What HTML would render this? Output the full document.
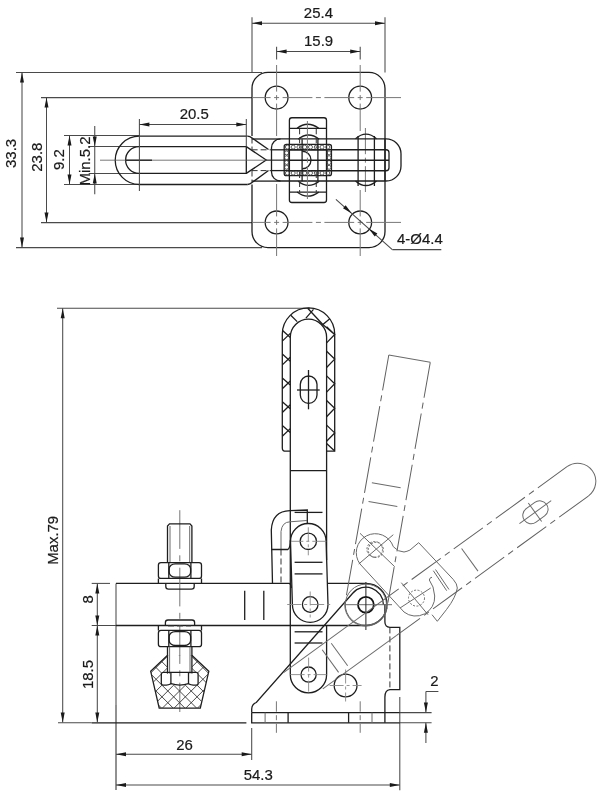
<!DOCTYPE html><html><head><meta charset="utf-8"><style>
html,body{margin:0;padding:0;background:#fff;}
svg{display:block;filter:grayscale(1);}
.k{fill:none;stroke:#1e1e1e;stroke-width:1.3;}
.kb{fill:none;stroke:#111;stroke-width:1.8;}
.g{fill:none;stroke:#6a6a6a;stroke-width:1;}
.gd{fill:none;stroke:#707070;stroke-width:1;stroke-dasharray:2 1.5;}
.c{fill:none;stroke:#777;stroke-width:1;}
.c2{fill:none;stroke:#888;stroke-width:0.9;stroke-dasharray:14 3 3 3;}
.d{fill:none;stroke:#333;stroke-width:1;stroke-dasharray:6 3;}
.p{fill:none;stroke:#606060;stroke-width:1;stroke-dasharray:36 5 6 5;}
.kn{fill:none;stroke:#444;stroke-width:0.9;}
.t{fill:none;stroke:#555;stroke-width:0.8;}
.cs{fill:none;stroke:#777;stroke-width:1;stroke-dasharray:38.7 6.4 6 6.4;}
.e{fill:none;stroke:#4a4a4a;stroke-width:1.05;}
.k1{fill:none;stroke:#222;stroke-width:1;}
.h{fill:none;stroke:#333;stroke-width:0.9;}
.ar{fill:#1a1a1a;stroke:none;}
text{font-family:"Liberation Sans",sans-serif;fill:#1a1a1a;stroke:#1a1a1a;stroke-width:0.2px;}
</style></head><body>
<svg width="600" height="799" viewBox="0 0 600 799">
<line x1="16.00" y1="72.40" x2="262.00" y2="72.40" class="e"/>
<line x1="16.00" y1="247.60" x2="262.00" y2="247.60" class="e"/>
<line x1="22.00" y1="72.40" x2="22.00" y2="247.60" class="e"/>
<path d="M22.00,72.40 L24.00,82.40 L20.00,82.40 Z" class="ar"/>
<path d="M22.00,247.60 L20.00,237.60 L24.00,237.60 Z" class="ar"/>
<text transform="translate(10.6 153.4) rotate(-90) scale(0.965 1)" x="0" y="0" font-size="15.5" text-anchor="middle" dominant-baseline="central">33.3</text>
<line x1="41.00" y1="97.60" x2="252.00" y2="97.60" class="e"/>
<line x1="41.00" y1="222.60" x2="252.00" y2="222.60" class="e"/>
<line x1="46.50" y1="97.60" x2="46.50" y2="222.60" class="e"/>
<path d="M46.50,97.60 L48.50,107.60 L44.50,107.60 Z" class="ar"/>
<path d="M46.50,222.60 L44.50,212.60 L48.50,212.60 Z" class="ar"/>
<text transform="translate(36.25 157.2) rotate(-90) scale(0.965 1)" x="0" y="0" font-size="15.5" text-anchor="middle" dominant-baseline="central">23.8</text>
<line x1="64.00" y1="135.50" x2="140.00" y2="135.50" class="e"/>
<line x1="64.00" y1="184.40" x2="140.00" y2="184.40" class="e"/>
<line x1="69.50" y1="135.50" x2="69.50" y2="184.40" class="e"/>
<path d="M69.50,135.50 L71.50,145.50 L67.50,145.50 Z" class="ar"/>
<path d="M69.50,184.40 L67.50,174.40 L71.50,174.40 Z" class="ar"/>
<text transform="translate(58.75 159.6) rotate(-90) scale(0.965 1)" x="0" y="0" font-size="15.5" text-anchor="middle" dominant-baseline="central">9.2</text>
<line x1="88.70" y1="146.40" x2="140.00" y2="146.40" class="e"/>
<line x1="88.70" y1="173.40" x2="140.00" y2="173.40" class="e"/>
<line x1="94.75" y1="126.00" x2="94.75" y2="194.20" class="e"/>
<path d="M94.75,146.40 L92.75,136.40 L96.75,136.40 Z" class="ar"/>
<path d="M94.75,173.40 L96.75,183.40 L92.75,183.40 Z" class="ar"/>
<text transform="translate(84.4 161) rotate(-90) scale(0.965 1)" x="0" y="0" font-size="15.5" text-anchor="middle" dominant-baseline="central">Min.5.2</text>
<path d="M247.5,136.1 L139.4,136.1 A24.2,24.2 0 0 0 139.4,184.5 L247.5,184.5" class="k"/>
<path d="M246.3,146.6 L139,146.6 A13.4,13.4 0 0 0 139,173.4 L246.3,173.4 Z" class="k"/>
<path d="M246.3,146.6 L266.2,160 L246.3,173.4" class="k"/>
<path d="M247.5,136.1 Q250,136.3 252,138 L268.5,149.5" class="k"/>
<path d="M247.5,184.5 Q250,184.3 252,182.6 L268.5,170.5" class="k"/>
<line x1="251.60" y1="149.80" x2="271.50" y2="149.80" class="d"/>
<line x1="251.60" y1="170.60" x2="271.50" y2="170.60" class="d"/>
<line x1="271.50" y1="149.80" x2="289.00" y2="149.80" class="k"/>
<line x1="271.50" y1="170.60" x2="289.00" y2="170.60" class="k"/>
<line x1="251.90" y1="139.00" x2="280.50" y2="139.00" class="k"/>
<line x1="251.90" y1="181.10" x2="280.50" y2="181.10" class="k"/>
<line x1="266.00" y1="160.20" x2="289.00" y2="160.20" class="k1"/>
<line x1="100.00" y1="160.20" x2="289.00" y2="160.20" class="t"/>
<line x1="126.00" y1="160.20" x2="152.00" y2="160.20" class="k"/>
<line x1="139.40" y1="119.00" x2="139.40" y2="191.00" class="e"/>
<line x1="246.30" y1="119.00" x2="246.30" y2="146.60" class="e"/>
<line x1="139.40" y1="124.50" x2="246.30" y2="124.50" class="e"/>
<path d="M139.40,124.50 L149.40,122.50 L149.40,126.50 Z" class="ar"/>
<path d="M246.30,124.50 L236.30,126.50 L236.30,122.50 Z" class="ar"/>
<text transform="translate(194.25 113.6) rotate(0) scale(0.965 1)" x="0" y="0" font-size="15.5" text-anchor="middle" dominant-baseline="central">20.5</text>
<path d="M252,136.1 L252,88.4 A16,16 0 0 1 268,72.4 L369,72.4 A16,16 0 0 1 385,88.4 L385,231.6 A16,16 0 0 1 369,247.6 L268,247.6 A16,16 0 0 1 252,231.6 L252,184.5" class="k"/>
<line x1="252.00" y1="137.50" x2="252.00" y2="149.50" class="d"/>
<line x1="252.00" y1="170.50" x2="252.00" y2="182.50" class="d"/>
<circle cx="276.6" cy="97.6" r="11.4" class="k"/>
<circle cx="276.6" cy="222.4" r="11.4" class="k"/>
<circle cx="360.2" cy="97.6" r="11.4" class="k"/>
<circle cx="360.2" cy="222.4" r="11.4" class="k"/>
<line x1="252.00" y1="97.60" x2="270.60" y2="97.60" class="c"/>
<line x1="274.10" y1="97.60" x2="279.10" y2="97.60" class="c"/>
<line x1="282.60" y1="97.60" x2="312.40" y2="97.60" class="c"/>
<line x1="315.90" y1="97.60" x2="320.90" y2="97.60" class="c"/>
<line x1="324.40" y1="97.60" x2="354.20" y2="97.60" class="c"/>
<line x1="357.70" y1="97.60" x2="362.70" y2="97.60" class="c"/>
<line x1="366.20" y1="97.60" x2="401.00" y2="97.60" class="c"/>
<line x1="252.00" y1="222.40" x2="270.60" y2="222.40" class="c"/>
<line x1="274.10" y1="222.40" x2="279.10" y2="222.40" class="c"/>
<line x1="282.60" y1="222.40" x2="312.40" y2="222.40" class="c"/>
<line x1="315.90" y1="222.40" x2="320.90" y2="222.40" class="c"/>
<line x1="324.40" y1="222.40" x2="354.20" y2="222.40" class="c"/>
<line x1="357.70" y1="222.40" x2="362.70" y2="222.40" class="c"/>
<line x1="366.20" y1="222.40" x2="401.00" y2="222.40" class="c"/>
<line x1="276.60" y1="46.70" x2="276.60" y2="59.40" class="e"/>
<line x1="360.20" y1="46.70" x2="360.20" y2="59.40" class="e"/>
<line x1="276.60" y1="65.00" x2="276.60" y2="91.60" class="c"/>
<line x1="276.60" y1="95.10" x2="276.60" y2="100.10" class="c"/>
<line x1="276.60" y1="103.60" x2="276.60" y2="136.00" class="c"/>
<line x1="276.60" y1="184.00" x2="276.60" y2="216.40" class="c"/>
<line x1="276.60" y1="219.90" x2="276.60" y2="224.90" class="c"/>
<line x1="276.60" y1="228.40" x2="276.60" y2="256.00" class="c"/>
<line x1="360.20" y1="65.00" x2="360.20" y2="91.60" class="c"/>
<line x1="360.20" y1="95.10" x2="360.20" y2="100.10" class="c"/>
<line x1="360.20" y1="103.60" x2="360.20" y2="131.00" class="c"/>
<line x1="360.20" y1="190.00" x2="360.20" y2="216.40" class="c"/>
<line x1="360.20" y1="219.90" x2="360.20" y2="224.90" class="c"/>
<line x1="360.20" y1="228.40" x2="360.20" y2="256.00" class="c"/>
<line x1="365.40" y1="128.00" x2="365.40" y2="154.20" class="c"/>
<line x1="365.40" y1="157.70" x2="365.40" y2="162.70" class="c"/>
<line x1="365.40" y1="166.20" x2="365.40" y2="192.00" class="c"/>
<line x1="252.00" y1="17.30" x2="252.00" y2="72.40" class="e"/>
<line x1="385.00" y1="17.30" x2="385.00" y2="72.40" class="e"/>
<line x1="252.00" y1="23.20" x2="385.00" y2="23.20" class="e"/>
<path d="M252.00,23.20 L262.00,21.20 L262.00,25.20 Z" class="ar"/>
<path d="M385.00,23.20 L375.00,25.20 L375.00,21.20 Z" class="ar"/>
<text transform="translate(318.4 12.65) rotate(0) scale(0.965 1)" x="0" y="0" font-size="15.5" text-anchor="middle" dominant-baseline="central">25.4</text>
<line x1="276.60" y1="51.50" x2="360.20" y2="51.50" class="e"/>
<path d="M276.60,51.50 L286.60,49.50 L286.60,53.50 Z" class="ar"/>
<path d="M360.20,51.50 L350.20,53.50 L350.20,49.50 Z" class="ar"/>
<text transform="translate(318.55 40.8) rotate(0) scale(0.965 1)" x="0" y="0" font-size="15.5" text-anchor="middle" dominant-baseline="central">15.9</text>
<line x1="335.90" y1="199.30" x2="392.30" y2="249.60" class="e"/>
<line x1="392.30" y1="249.60" x2="441.30" y2="249.60" class="e"/>
<path d="M351.80,213.50 L343.00,208.35 L345.66,205.36 Z" class="ar"/>
<path d="M368.60,228.40 L377.40,233.55 L374.74,236.54 Z" class="ar"/>
<text transform="translate(419.9 238.8) rotate(0) scale(0.965 1)" x="0" y="0" font-size="15.5" text-anchor="middle" dominant-baseline="central">4-Ø4.4</text>
<path d="M280.5,138.8 L386,138.8 A15,15 0 0 1 401,153.8 L401,166 A15,15 0 0 1 386,181 L280.5,181 A9,9 0 0 1 271.5,172 L271.5,147.8 A9,9 0 0 1 280.5,138.8 Z" class="k"/>
<path d="M288.5,149.75 L386,149.75 A3,3 0 0 1 389,152.75 L389,167.75 A3,3 0 0 1 386,170.75 L288.5,170.75" class="k"/>
<line x1="288.50" y1="160.25" x2="389.00" y2="160.25" class="k"/>
<path d="M291.9,117.75 L324,117.75 A2.5,2.5 0 0 1 326.5,120.25 L326.5,200 A2.5,2.5 0 0 1 324,202.5 L291.9,202.5 A2.5,2.5 0 0 1 289.4,200 L289.4,120.25 A2.5,2.5 0 0 1 291.9,117.75 Z" class="k"/>
<line x1="289.40" y1="128.30" x2="326.50" y2="128.30" class="k"/>
<line x1="289.40" y1="192.10" x2="326.50" y2="192.10" class="k"/>
<path d="M297.1,128.3 Q307.5,120.2 318.75,128.3" class="k"/>
<path d="M297.1,192.1 Q307.5,200.2 318.75,192.1" class="k"/>
<path d="M286.4,144.4 L329.25,144.4 A2.2,2.2 0 0 1 331.45,146.6 L331.45,173.4 A2.2,2.2 0 0 1 329.25,175.6 L286.4,175.6 A2.2,2.2 0 0 1 284.2,173.4 L284.2,146.6 A2.2,2.2 0 0 1 286.4,144.4 Z" class="k"/>
<path d="M289,149.8 L327,149.8 L327,170.6 L289,170.6 Z" class="k"/>
<circle cx="287.4" cy="147.1" r="2.0" class="kn"/>
<circle cx="287.4" cy="173.1" r="2.0" class="kn"/>
<circle cx="293.16999999999996" cy="147.1" r="2.0" class="kn"/>
<circle cx="293.16999999999996" cy="173.1" r="2.0" class="kn"/>
<circle cx="298.94" cy="147.1" r="2.0" class="kn"/>
<circle cx="298.94" cy="173.1" r="2.0" class="kn"/>
<circle cx="304.71" cy="147.1" r="2.0" class="kn"/>
<circle cx="304.71" cy="173.1" r="2.0" class="kn"/>
<circle cx="310.47999999999996" cy="147.1" r="2.0" class="kn"/>
<circle cx="310.47999999999996" cy="173.1" r="2.0" class="kn"/>
<circle cx="316.25" cy="147.1" r="2.0" class="kn"/>
<circle cx="316.25" cy="173.1" r="2.0" class="kn"/>
<circle cx="322.02" cy="147.1" r="2.0" class="kn"/>
<circle cx="322.02" cy="173.1" r="2.0" class="kn"/>
<circle cx="327.78999999999996" cy="147.1" r="2.0" class="kn"/>
<circle cx="327.78999999999996" cy="173.1" r="2.0" class="kn"/>
<circle cx="286.6" cy="152.9" r="2.0" class="kn"/>
<circle cx="329.1" cy="152.9" r="2.0" class="kn"/>
<circle cx="286.6" cy="157.70000000000002" r="2.0" class="kn"/>
<circle cx="329.1" cy="157.70000000000002" r="2.0" class="kn"/>
<circle cx="286.6" cy="162.5" r="2.0" class="kn"/>
<circle cx="329.1" cy="162.5" r="2.0" class="kn"/>
<circle cx="286.6" cy="167.3" r="2.0" class="kn"/>
<circle cx="329.1" cy="167.3" r="2.0" class="kn"/>
<path d="M298.3,139.2 Q308.3,130.8 319.2,139.2" class="k"/>
<path d="M298.3,181.2 Q308.3,189.6 319.2,181.2" class="k"/>
<line x1="302.10" y1="139.20" x2="302.10" y2="181.20" class="k"/>
<line x1="317.90" y1="139.20" x2="317.90" y2="181.20" class="k"/>
<line x1="299.60" y1="128.30" x2="299.60" y2="148.00" class="d"/>
<line x1="316.25" y1="128.30" x2="316.25" y2="148.00" class="d"/>
<line x1="299.60" y1="172.00" x2="299.60" y2="192.10" class="d"/>
<line x1="316.25" y1="172.00" x2="316.25" y2="192.10" class="d"/>
<path d="M302.25,151.25 A8.75,8.75 0 0 1 302.25,168.75" class="k"/>
<line x1="307.40" y1="121.00" x2="307.40" y2="154.20" class="c"/>
<line x1="307.40" y1="157.70" x2="307.40" y2="162.70" class="c"/>
<line x1="307.40" y1="166.20" x2="307.40" y2="199.00" class="c"/>
<path d="M355.5,138.8 Q366,129.5 376.5,138.8" class="k"/>
<path d="M355.5,180.9 Q366,190.2 376.5,180.9" class="k"/>
<line x1="358.10" y1="136.00" x2="358.10" y2="186.00" class="k"/>
<line x1="374.40" y1="136.00" x2="374.40" y2="186.00" class="k"/>
<line x1="385.00" y1="138.80" x2="385.00" y2="181.00" class="k"/>
<line x1="57.00" y1="308.20" x2="310.00" y2="308.20" class="e"/>
<line x1="62.70" y1="308.20" x2="62.70" y2="722.60" class="e"/>
<path d="M62.70,308.20 L64.70,318.20 L60.70,318.20 Z" class="ar"/>
<path d="M62.70,722.60 L60.70,712.60 L64.70,712.60 Z" class="ar"/>
<text transform="translate(52.3 540.35) rotate(-90) scale(0.965 1)" x="0" y="0" font-size="15.5" text-anchor="middle" dominant-baseline="central">Max.79</text>
<line x1="58.00" y1="722.80" x2="91.70" y2="722.80" class="e"/>
<line x1="91.70" y1="722.80" x2="246.40" y2="722.80" class="k"/>
<line x1="91.70" y1="583.40" x2="110.00" y2="583.40" class="e"/>
<line x1="91.70" y1="625.50" x2="116.00" y2="625.50" class="e"/>
<line x1="97.30" y1="583.40" x2="97.30" y2="722.60" class="e"/>
<path d="M97.30,583.40 L99.30,593.40 L95.30,593.40 Z" class="ar"/>
<path d="M97.30,625.50 L95.30,615.50 L99.30,615.50 Z" class="ar"/>
<path d="M97.30,625.50 L99.30,635.50 L95.30,635.50 Z" class="ar"/>
<path d="M97.30,722.60 L95.30,712.60 L99.30,712.60 Z" class="ar"/>
<text transform="translate(87.25 599.3) rotate(-90) scale(0.965 1)" x="0" y="0" font-size="15.5" text-anchor="middle" dominant-baseline="central">8</text>
<text transform="translate(87.4 674.5) rotate(-90) scale(0.965 1)" x="0" y="0" font-size="15.5" text-anchor="middle" dominant-baseline="central">18.5</text>
<line x1="116.00" y1="583.40" x2="116.00" y2="705.00" class="e"/>
<line x1="116.00" y1="705.00" x2="116.00" y2="790.00" class="k1"/>
<line x1="251.70" y1="728.00" x2="251.70" y2="760.00" class="e"/>
<line x1="116.00" y1="754.20" x2="251.70" y2="754.20" class="e"/>
<path d="M116.00,754.20 L126.00,752.20 L126.00,756.20 Z" class="ar"/>
<path d="M251.70,754.20 L241.70,756.20 L241.70,752.20 Z" class="ar"/>
<text transform="translate(184.45 744.3) rotate(0) scale(0.965 1)" x="0" y="0" font-size="15.5" text-anchor="middle" dominant-baseline="central">26</text>
<line x1="116.00" y1="784.90" x2="399.80" y2="784.90" class="e"/>
<path d="M116.00,784.90 L126.00,782.90 L126.00,786.90 Z" class="ar"/>
<path d="M399.80,784.90 L389.80,786.90 L389.80,782.90 Z" class="ar"/>
<text transform="translate(258.2 774.65) rotate(0) scale(0.965 1)" x="0" y="0" font-size="15.5" text-anchor="middle" dominant-baseline="central">54.3</text>
<line x1="399.80" y1="697.00" x2="399.80" y2="790.30" class="e"/>
<path d="M116,583.4 L289.2,583.4 Q291.2,584 291.3,588" class="k"/>
<path d="M327,583.4 L366,583.4 A21.05,21.05 0 0 1 366,625.5 L116,625.5" class="k"/>
<line x1="244.70" y1="590.80" x2="244.70" y2="620.00" class="k"/>
<line x1="263.80" y1="590.80" x2="263.80" y2="620.00" class="k"/>
<line x1="179.80" y1="510.20" x2="179.80" y2="712.00" class="cs"/>
<path d="M167.5,562.6 L167.5,526 L169.5,523.9 L190,523.9 L191.9,526 L191.9,562.6" class="k"/>
<line x1="170.00" y1="526.00" x2="170.00" y2="562.60" class="g"/>
<line x1="189.70" y1="526.00" x2="189.70" y2="562.60" class="g"/>
<path d="M161,562.6 L199,562.6 Q201.5,562.6 201.5,565.1 L201.5,575.9 Q201.5,578.4 199,578.4 L161,578.4 Q158.4,578.4 158.4,575.9 L158.4,565.1 Q158.4,562.6 161,562.6 Z" class="k"/>
<rect x="169.2" y="563.8000000000001" width="21.4" height="13.399999999999954" rx="6" ry="5" class="k"/>
<line x1="168.80" y1="562.60" x2="168.80" y2="578.40" class="k"/>
<line x1="190.90" y1="562.60" x2="190.90" y2="578.40" class="k"/>
<path d="M158.4,578.4 L158.4,583.4 M201.5,578.4 L201.5,583.4" class="k"/>
<path d="M165.8,583.6 L165.8,586.6 Q165.8,589.2 168.5,589.2 L191.5,589.2 Q194.2,589.2 194.2,586.6 L194.2,583.6" class="k"/>
<path d="M165.4,625.5 L165.4,622.6 Q165.4,620 168,620 L192,620 Q194.6,620 194.6,622.6 L194.6,625.5" class="k"/>
<line x1="168.00" y1="625.90" x2="191.00" y2="625.90" class="d"/>
<path d="M158.4,625.5 L158.4,630.4 M201.5,625.5 L201.5,630.4" class="k"/>
<path d="M161,630.4 L199,630.4 Q201.5,630.4 201.5,632.9 L201.5,644.2 Q201.5,646.7 199,646.7 L161,646.7 Q158.4,646.7 158.4,644.2 L158.4,632.9 Q158.4,630.4 161,630.4 Z" class="k"/>
<rect x="169.2" y="631.6" width="21.4" height="13.900000000000068" rx="6" ry="5" class="k"/>
<line x1="168.80" y1="630.40" x2="168.80" y2="646.70" class="k"/>
<line x1="190.90" y1="630.40" x2="190.90" y2="646.70" class="k"/>
<line x1="167.50" y1="646.70" x2="167.50" y2="673.60" class="k"/>
<line x1="191.90" y1="646.70" x2="191.90" y2="673.60" class="k"/>
<line x1="169.60" y1="646.70" x2="169.60" y2="673.60" class="g"/>
<line x1="190.00" y1="646.70" x2="190.00" y2="673.60" class="g"/>
<path d="M167.6,655.3 L150.7,671.3 L159.2,708.1 L200.3,708.1 L208.8,671.3 L191.8,655.3" class="k"/>
<path d="M163.5,672.4 L196,672.4 Q198.1,672.4 198.1,674.5 L198.1,683.5 Q198.1,685.2 196,685.2 Q190,685.2 188.5,683.6 Q180,686.5 171,683.6 Q169.5,685.2 163.5,685.2 Q161.3,685.2 161.3,683.2 L161.3,674.5 Q161.3,672.4 163.5,672.4 Z" class="k"/>
<line x1="170.90" y1="672.40" x2="170.90" y2="684.00" class="k"/>
<line x1="188.50" y1="672.40" x2="188.50" y2="684.00" class="k"/>
<clipPath id="rt"><path clip-rule="evenodd" d="M167.6,655.3 L150.7,671.3 L159.2,708.1 L200.3,708.1 L208.8,671.3 L191.8,655.3 Z M167.5,655 L191.9,655 L191.9,672.4 L167.5,672.4 Z M161.3,672.4 L198.1,672.4 L198.1,685.2 L161.3,685.2 Z"/></clipPath>
<path d="M44.90,650 L106.90,712 M126.90,650 L64.90,712 M56.60,650 L118.60,712 M138.60,650 L76.60,712 M68.30,650 L130.30,712 M150.30,650 L88.30,712 M80.00,650 L142.00,712 M162.00,650 L100.00,712 M91.70,650 L153.70,712 M173.70,650 L111.70,712 M103.40,650 L165.40,712 M185.40,650 L123.40,712 M115.10,650 L177.10,712 M197.10,650 L135.10,712 M126.80,650 L188.80,712 M208.80,650 L146.80,712 M138.50,650 L200.50,712 M220.50,650 L158.50,712 M150.20,650 L212.20,712 M232.20,650 L170.20,712 M161.90,650 L223.90,712 M243.90,650 L181.90,712 M173.60,650 L235.60,712 M255.60,650 L193.60,712 M185.30,650 L247.30,712 M267.30,650 L205.30,712 M197.00,650 L259.00,712 M279.00,650 L217.00,712 M208.70,650 L270.70,712 M290.70,650 L228.70,712 M220.40,650 L282.40,712 M302.40,650 L240.40,712 M232.10,650 L294.10,712 M314.10,650 L252.10,712" class="h" clip-path="url(#rt)"/>
<path d="M290.3,674.7 L290.3,337.3 A18.15,18.15 0 0 1 326.6,337.3 L326.6,560" class="k"/>
<path d="M326.6,626 L326.6,674.7 A18.15,18.15 0 0 1 290.3,674.7" class="k"/>
<path d="M282.3,447.9 L282.3,334.15 A26.2,26.2 0 0 1 334.7,334.15 L334.7,451.2 L326.6,451.2" class="k"/>
<path d="M290.3,451.2 L285.8,451.2 Q282.3,451.2 282.3,447.9" class="k"/>
<path d="M282.3,330.3 L290.3,337.4 M282.3,341.1 L290.3,333.4 M282.3,354.1 L290.3,361.2 M282.3,364.9 L290.3,357.2 M282.3,377.9 L290.3,385.0 M282.3,388.7 L290.3,381.0 M282.3,401.7 L290.3,408.8 M282.3,412.5 L290.3,404.8 M282.3,425.5 L290.3,432.6 M282.3,436.3 L290.3,428.6 M326.6,326.7 L334.7,334.5 L326.6,342.9 M326.6,351.3 L334.7,359.1 L326.6,367.5 M326.6,375.9 L334.7,383.7 L326.6,392.1 M326.6,400.5 L334.7,408.3 L326.6,416.7 M326.6,425.1 L334.7,432.9 L326.6,441.3 M326.6,443.5 L334.7,451 M290.75,315.2 L297.2,321.6 M305.9,318.1 L313.5,309.3 M307.7,308.2 L322.8,324.5 L329.8,318.7 M322.8,324.5 L334.7,334.5" class="k"/>
<line x1="290.30" y1="470.70" x2="326.60" y2="470.70" class="k"/>
<rect x="300.3" y="376" width="16.7" height="27.3" rx="8.35" ry="8.35" class="k"/>
<line x1="297.00" y1="390.00" x2="319.70" y2="390.00" class="k"/>
<line x1="308.50" y1="370.00" x2="308.50" y2="409.30" class="k"/>
<line x1="294.60" y1="512.40" x2="322.50" y2="512.40" class="k"/>
<line x1="294.60" y1="562.30" x2="322.50" y2="562.30" class="k"/>
<line x1="294.60" y1="573.90" x2="322.50" y2="573.90" class="k"/>
<line x1="294.60" y1="631.80" x2="322.50" y2="631.80" class="k"/>
<line x1="294.60" y1="643.00" x2="322.50" y2="643.00" class="k"/>
<circle cx="308.6" cy="674.6" r="7.6" class="k"/>
<line x1="290.60" y1="674.60" x2="326.60" y2="674.60" class="c2"/>
<line x1="308.60" y1="657.60" x2="308.60" y2="691.60" class="c2"/>
<path d="M290.5,541.3 A17.8,17.8 0 0 1 326.1,541.3 L328,604.5 A17.8,17.8 0 0 1 292.4,604.5 Z" class="k"/>
<circle cx="308.3" cy="541.3" r="8.2" class="k"/>
<circle cx="310.2" cy="604.5" r="7.8" class="k"/>
<line x1="289.30" y1="541.30" x2="327.30" y2="541.30" class="c2"/>
<line x1="308.30" y1="527.30" x2="308.30" y2="555.30" class="c2"/>
<line x1="287.20" y1="604.50" x2="333.20" y2="604.50" class="c2"/>
<line x1="310.20" y1="591.50" x2="310.20" y2="617.50" class="c2"/>
<path d="M272.5,583.4 L271.3,530 Q272.3,511 290,510.6 L307.3,510 L307.3,524" class="k"/>
<path d="M281,549.5 L281,531.5 Q282,522 290,521.8 L307,520.5" class="g"/>
<line x1="281.00" y1="549.50" x2="281.00" y2="583.00" class="d"/>
<path d="M271.3,549.5 L287.8,549.5 Q290.3,548 290.5,540" class="k"/>
<path d="M251.7,712.6 L251.7,709 Q252,704 256.3,702.5 L352.7,593.2 A17.5,17.5 0 0 1 383.4,604.7" class="k"/>
<path d="M384.9,722.8 L384.9,697 Q385,690 389.9,689.6 L399.8,689.6 L399.8,627.4 L389.9,627.4 Q385,627 384.9,622 L384.9,604" class="k"/>
<line x1="389.90" y1="627.40" x2="389.90" y2="689.60" class="d"/>
<path d="M251.7,712.6 L399.8,712.6 M251.7,712.6 L251.7,722.8 L399.8,722.8" class="k"/>
<line x1="399.80" y1="712.60" x2="431.60" y2="712.60" class="e"/>
<line x1="399.80" y1="722.80" x2="431.60" y2="722.80" class="e"/>
<line x1="265.10" y1="712.60" x2="265.10" y2="722.80" class="g"/>
<line x1="288.10" y1="712.60" x2="288.10" y2="722.80" class="k"/>
<line x1="348.60" y1="712.60" x2="348.60" y2="722.80" class="k"/>
<line x1="372.00" y1="712.60" x2="372.00" y2="722.80" class="g"/>
<line x1="276.40" y1="701.30" x2="276.40" y2="711.70" class="c"/>
<line x1="276.40" y1="715.20" x2="276.40" y2="720.20" class="c"/>
<line x1="276.40" y1="723.70" x2="276.40" y2="732.80" class="c"/>
<line x1="360.20" y1="701.30" x2="360.20" y2="711.70" class="c"/>
<line x1="360.20" y1="715.20" x2="360.20" y2="720.20" class="c"/>
<line x1="360.20" y1="723.70" x2="360.20" y2="732.80" class="c"/>
<circle cx="345.6" cy="685.5" r="11.4" class="k"/>
<line x1="329.60" y1="685.50" x2="361.60" y2="685.50" class="c2"/>
<line x1="345.60" y1="669.50" x2="345.60" y2="701.50" class="c2"/>
<circle cx="365.9" cy="604.7" r="7.9" class="kb"/>
<line x1="345.00" y1="604.70" x2="392.00" y2="604.70" class="g"/>
<line x1="365.90" y1="582.00" x2="365.90" y2="630.00" class="k1"/>
<circle cx="365.9" cy="604.7" r="20.6" class="g"/>
<line x1="425.90" y1="691.50" x2="425.90" y2="712.60" class="e"/>
<path d="M425.90,712.60 L423.90,702.60 L427.90,702.60 Z" class="ar"/>
<line x1="425.90" y1="691.50" x2="438.40" y2="691.50" class="e"/>
<line x1="425.90" y1="722.80" x2="425.90" y2="743.00" class="e"/>
<path d="M425.90,722.80 L427.90,732.80 L423.90,732.80 Z" class="ar"/>
<text transform="translate(434.4 680.45) rotate(0) scale(0.965 1)" x="0" y="0" font-size="15.5" text-anchor="middle" dominant-baseline="central">2</text>
<g transform="rotate(100 365.9 604.7)">
<line x1="116.00" y1="583.40" x2="116.00" y2="625.50" class="g"/>
<path d="M116,583.4 L366,583.4" class="p"/>
<path d="M116,625.5 L366,625.5" class="p"/>
<path d="M366,583.4 A21.1,21.1 0 0 1 366,625.8" class="g"/>
<line x1="244.70" y1="590.80" x2="244.70" y2="620.00" class="g"/>
<line x1="263.80" y1="590.80" x2="263.80" y2="620.00" class="g"/>
<circle cx="310.2" cy="604.5" r="7.6" class="gd"/>
</g>
<circle cx="374.7" cy="549.3" r="7.8" class="gd"/>
<circle cx="416.5" cy="598.1" r="8" class="gd"/>
<path d="M360,564 A19,19 0 1 1 393.3,546.7 Q398,552 404,552 Q407,551.5 409.9,550.1 L418.7,542.7 L453.3,579.5 Q457.3,584 457.3,588 Q456,597 446.7,609.3 L437.3,621.3 L432,614.7" class="g"/>
<path d="M360,564 L404,612 A19,19 0 0 0 434.7,596 Q434,586 429.3,580 Q430,577 432,577.3" class="g"/>
<line x1="433.30" y1="570.70" x2="446.70" y2="590.70" class="g"/>
<line x1="435.50" y1="569.50" x2="449.00" y2="589.50" class="g"/>
<line x1="360.00" y1="533.30" x2="394.70" y2="566.70" class="g"/>
<line x1="358.70" y1="564.00" x2="393.30" y2="534.70" class="g"/>
<line x1="401.30" y1="582.70" x2="428.00" y2="614.70" class="g"/>
<line x1="400.00" y1="608.00" x2="430.70" y2="588.00" class="g"/>
<g transform="rotate(54 301.7 673.5)">
<path d="M290.3,337.3 A18.15,18.15 0 0 1 326.6,337.3" class="g"/>
<path d="M290.3,337.3 L290.3,574.7" class="p"/>
<path d="M326.6,337.3 L326.6,574.7" class="p"/>
<path d="M290.3,574.7 L290.3,688" class="g"/>
<path d="M326.6,574.7 L326.6,665.5" class="g"/>
<rect x="300.3" y="376" width="16.7" height="27.3" rx="8.35" ry="8.35" class="g"/>
<line x1="297.00" y1="390.00" x2="319.70" y2="390.00" class="g"/>
<line x1="308.50" y1="370.00" x2="308.50" y2="409.30" class="g"/>
<line x1="294.60" y1="470.70" x2="322.50" y2="470.70" class="g"/>
<line x1="294.60" y1="631.80" x2="322.50" y2="631.80" class="g"/>
<line x1="294.60" y1="643.00" x2="322.50" y2="643.00" class="g"/>
</g>
</svg></body></html>
